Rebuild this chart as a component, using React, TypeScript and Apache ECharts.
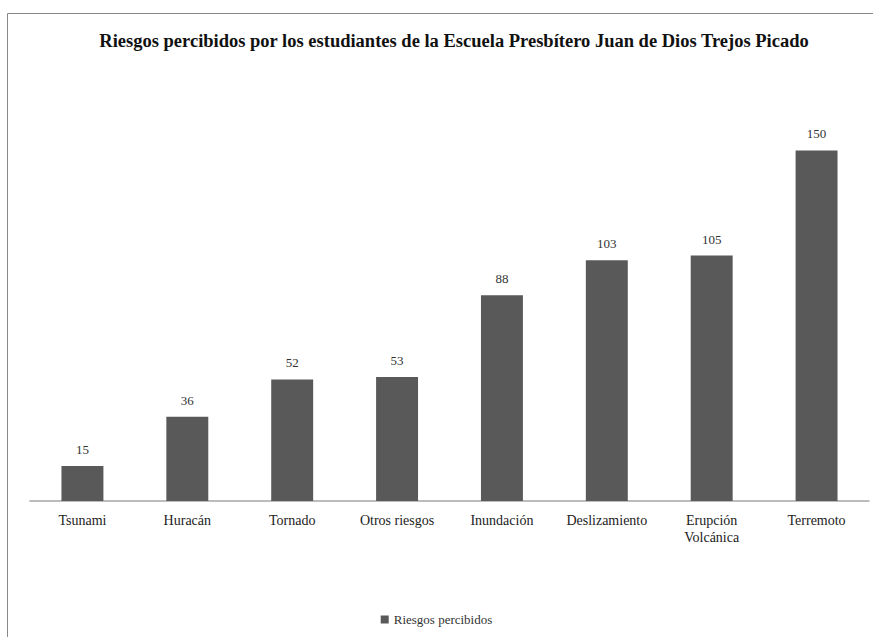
import React, { useEffect, useRef } from "react";
import * as echarts from "echarts";

const categories = ["Tsunami", "Huracán", "Tornado", "Otros riesgos", "Inundación", "Deslizamiento", "Erupción\nVolcánica", "Terremoto"];
const values = [15, 36, 52, 53, 88, 103, 105, 150];
const seriesName = "Riesgos percibidos";
const titleText = "Riesgos percibidos por los estudiantes de la Escuela Presbítero Juan de Dios Trejos Picado";

export default function App() {
  const ref = useRef<HTMLDivElement>(null);
  useEffect(() => {
    const chart = echarts.init(ref.current!, null, { renderer: "svg" });
    const serif = "'Liberation Serif', 'DejaVu Serif', serif";
    chart.setOption({
      animation: false,
      backgroundColor: "#ffffff",
      title: {
        text: titleText,
        left: 449,
        textAlign: "center",
        top: 26,
        textStyle: { fontFamily: serif, fontWeight: "bold", fontSize: 18.5, color: "#111" },
      },
      graphic: [
        {
          type: "rect",
          shape: { x: 7.5, y: 13.5, width: 900, height: 700 },
          style: { fill: "none", stroke: "#888", lineWidth: 1 },
          silent: true,
        },
      ],
      legend: {
        bottom: 6,
        left: "center",
        itemWidth: 8,
        itemHeight: 8,
        itemGap: 4,
        icon: "rect",
        textStyle: { fontFamily: serif, fontSize: 13, color: "#333" },
        data: [seriesName],
      },
      grid: { left: 30, right: 4, top: 127, bottom: 136, containLabel: false },
      xAxis: {
        type: "category",
        data: categories,
        axisLine: { lineStyle: { color: "#a6a6a6", width: 1.5 } },
        axisTick: { show: false },
        axisLabel: { fontFamily: serif, fontSize: 14, color: "#222", margin: 11, lineHeight: 17, interval: 0 },
      },
      yAxis: {
        type: "value",
        min: 0,
        max: 160,
        show: false,
        splitLine: { show: false },
      },
      series: [
        {
          name: seriesName,
          type: "bar",
          data: values,
          barWidth: "40%",
          itemStyle: { color: "#595959" },
          label: {
            show: true,
            position: "top",
            distance: 10,
            fontFamily: serif,
            fontSize: 13,
            color: "#333",
          },
        },
      ],
    });
    return () => chart.dispose();
  }, []);
  return <div ref={ref} style={{ position: "fixed", left: 0, top: 0, width: 873, height: 637 }} />;
}
